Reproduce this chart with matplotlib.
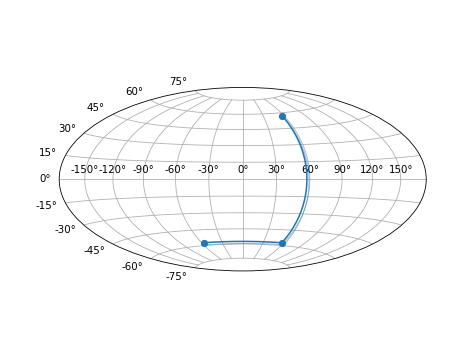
import matplotlib
matplotlib.use("Agg")
import matplotlib.pyplot as plt
import matplotlib.patheffects as pe

# points in radians (lon, lat)
lon = [-1, 1, 1]
lat = [-1, -1, 1]

fig = plt.figure(figsize=(6.4, 4.8), dpi=74)
ax = fig.add_subplot(111, projection="hammer")

# line with a light offset shadow
ax.plot(lon, lat, "-", color="C0",
        path_effects=[pe.SimpleLineShadow(offset=(2, -2), shadow_color="C0",
                                          alpha=0.45, linewidth=1.0),
                      pe.Normal()])
# markers
ax.plot(lon, lat, "o", color="C0")

ax.grid(True)

fig.savefig("out.png", dpi=74)
